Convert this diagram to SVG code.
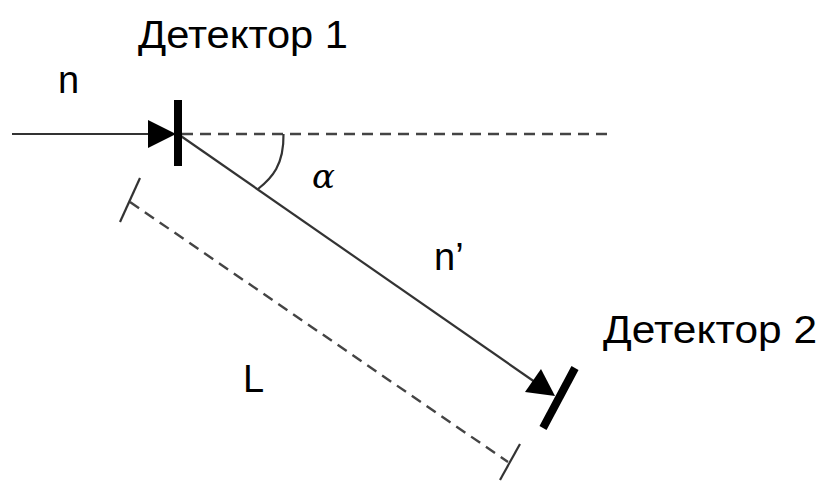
<svg xmlns="http://www.w3.org/2000/svg" width="824" height="482" viewBox="0 0 824 482">
<style>
.t{font-family:"Liberation Sans",Arial,sans-serif;font-size:38px;fill:#000}
.ln{stroke:#333;stroke-width:2.2;fill:none}
.dash{stroke:#444;stroke-width:2.4;fill:none;stroke-dasharray:11 7}
.bar{stroke:#000;stroke-width:8;stroke-linecap:butt}
.tri{fill:#000}
</style>
<rect width="824" height="482" fill="#fff"/>
<g id="connectors">
<line class="ln" x1="12" y1="134" x2="150" y2="134"/>
<line class="dash" x1="182" y1="134" x2="612" y2="134"/>
<line class="ln" x1="178" y1="134" x2="545" y2="389"/>
<path class="ln" d="M283.5 134 C284 165 272 178 258 189"/>
<line class="dash" x1="130" y1="202" x2="508" y2="462"/>
<line class="ln" x1="140" y1="178" x2="120" y2="222"/>
<line class="ln" x1="520" y1="444" x2="500" y2="480"/>
</g>
<g id="detector1">
<polygon class="tri" points="148,120 176,134 148,148"/>
<line class="bar" x1="178" y1="100" x2="178" y2="166"/>
<text class="t" x="138" y="48" textLength="210" lengthAdjust="spacingAndGlyphs">Детектор 1</text>
</g>
<g id="detector2">
<polygon class="tri" points="541,369 555,396 525,392"/>
<line class="bar" x1="575" y1="368" x2="543" y2="428"/>
<text class="t" x="603" y="343" textLength="214" lengthAdjust="spacingAndGlyphs">Детектор 2</text>
</g>
<g id="labels">
<text class="t" x="58" y="93">n</text>
<text class="t" x="434" y="270">n’</text>
<text class="t" x="243" y="392">L</text>
<text x="312" y="188" style="font-family:'DejaVu Serif','Liberation Serif',serif;font-style:italic;font-size:34px">α</text>
</g>
</svg>
